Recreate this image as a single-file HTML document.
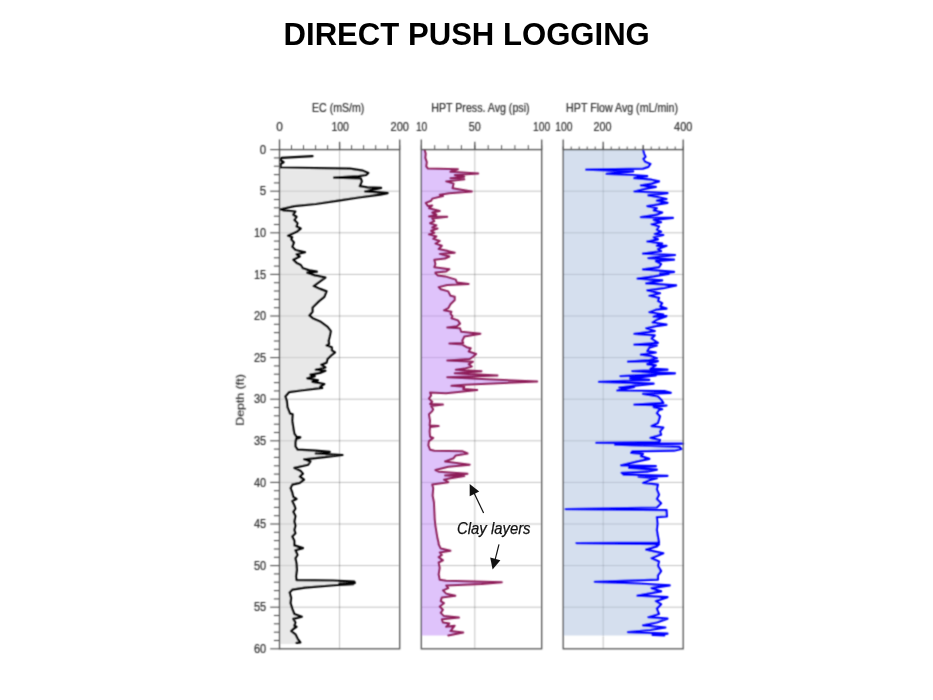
<!DOCTYPE html>
<html lang="en">
<head>
<meta charset="utf-8">
<title>Direct Push Logging</title>
<style>
html,body{margin:0;padding:0;background:#fff;}
body{width:933px;height:700px;position:relative;overflow:hidden;font-family:"Liberation Sans",Arial,sans-serif;}
h1{position:absolute;left:0.2px;top:17px;width:933px;margin:0;text-align:center;font-weight:bold;font-size:31.1px;line-height:36px;color:#000;white-space:nowrap;}
h1 span{display:inline-block;position:relative;}
#chart{position:absolute;left:0;top:0;font-family:"Liberation Sans",Arial,sans-serif;}
</style>
</head>
<body>
<h1 id="title"><span>DIRECT PUSH LOGGING</span></h1>
<svg id="chart" width="933" height="700" viewBox="0 0 933 700">
<defs><filter id="bl" x="-5%" y="-5%" width="110%" height="110%"><feConvolveMatrix order="3" kernelMatrix="0.1299 0.3604 0.1299 0.3604 1.0000 0.3604 0.1299 0.3604 0.1299" divisor="2.9615" edgeMode="none" preserveAlpha="false"/></filter></defs>
<g filter="url(#bl)">
<line x1="279.5" y1="191.2" x2="399.7" y2="191.2" stroke="rgba(0,0,0,0.24)" stroke-width="1"/>
<line x1="279.5" y1="232.8" x2="399.7" y2="232.8" stroke="rgba(0,0,0,0.24)" stroke-width="1"/>
<line x1="279.5" y1="274.4" x2="399.7" y2="274.4" stroke="rgba(0,0,0,0.24)" stroke-width="1"/>
<line x1="279.5" y1="316.0" x2="399.7" y2="316.0" stroke="rgba(0,0,0,0.24)" stroke-width="1"/>
<line x1="279.5" y1="357.6" x2="399.7" y2="357.6" stroke="rgba(0,0,0,0.24)" stroke-width="1"/>
<line x1="279.5" y1="399.2" x2="399.7" y2="399.2" stroke="rgba(0,0,0,0.24)" stroke-width="1"/>
<line x1="279.5" y1="440.8" x2="399.7" y2="440.8" stroke="rgba(0,0,0,0.24)" stroke-width="1"/>
<line x1="279.5" y1="482.4" x2="399.7" y2="482.4" stroke="rgba(0,0,0,0.24)" stroke-width="1"/>
<line x1="279.5" y1="524.0" x2="399.7" y2="524.0" stroke="rgba(0,0,0,0.24)" stroke-width="1"/>
<line x1="279.5" y1="565.6" x2="399.7" y2="565.6" stroke="rgba(0,0,0,0.24)" stroke-width="1"/>
<line x1="279.5" y1="607.2" x2="399.7" y2="607.2" stroke="rgba(0,0,0,0.24)" stroke-width="1"/>
<line x1="339.6" y1="149.6" x2="339.6" y2="648.8" stroke="rgba(0,0,0,0.24)" stroke-width="1"/>
<polygon fill="#d1d1d1" fill-opacity="0.5" points="279.5,169.3 354.3,169.3 362.9,170.7 368.3,172.9 366.1,175.0 358.6,176.1 334.0,177.6 360.8,178.4 361.8,181.4 359.7,186.2 367.2,187.4 381.1,187.9 365.0,191.5 375.8,192.2 387.6,193.2 380.1,194.7 358.6,197.5 341.5,200.1 315.7,204.0 294.3,206.1 280.4,209.3 283.6,210.4 295.4,211.5 293.2,214.7 296.5,216.8 294.3,220.0 297.5,223.2 296.5,226.5 300.7,228.6 296.5,231.8 287.9,235.7 292.2,237.2 291.1,239.3 293.9,242.5 292.2,246.8 295.4,250.0 305.0,252.2 296.5,254.3 299.7,256.5 293.2,259.7 296.5,262.9 300.7,265.0 302.9,268.3 309.3,270.4 316.8,271.7 307.2,272.6 314.7,275.4 325.4,277.5 321.1,280.7 313.6,286.1 320.0,288.9 326.5,291.4 324.3,296.8 319.0,301.1 312.5,307.5 312.5,311.8 309.3,315.4 312.5,318.2 320.0,321.4 327.5,326.8 330.8,331.1 329.7,336.5 328.6,340.7 329.0,344.0 326.5,345.5 331.8,347.2 331.8,350.4 335.0,352.5 330.8,355.7 327.5,359.0 326.5,362.6 321.1,364.7 325.4,367.5 315.7,369.7 325.4,370.8 320.0,372.9 310.4,374.6 314.7,376.1 307.2,378.3 317.9,380.4 312.5,381.9 324.3,384.0 320.0,386.8 322.2,387.9 300.7,390.5 288.9,392.2 285.3,396.5 286.8,400.8 287.4,407.2 290.0,413.6 292.6,414.3 292.2,420.7 293.2,427.1 294.3,433.6 296.5,436.8 300.3,437.4 296.0,438.9 295.4,442.2 295.4,446.4 297.5,449.7 315.7,450.7 329.7,451.8 315.7,453.5 342.5,455.0 324.3,457.2 304.0,459.3 310.4,461.4 308.2,464.7 294.3,467.9 300.7,471.1 302.9,473.7 299.7,476.5 304.0,479.7 299.7,482.9 292.2,484.6 290.5,488.2 292.2,492.5 293.2,496.8 296.5,499.0 292.2,501.1 294.3,505.4 295.4,508.6 293.2,511.8 295.4,516.1 294.3,521.5 295.4,525.8 294.3,530.0 295.4,533.3 292.2,536.5 294.3,540.8 294.3,545.4 302.9,548.1 295.4,550.3 297.5,555.0 295.4,558.2 296.5,563.6 296.9,570.0 296.0,576.4 296.5,580.1 332.9,580.5 354.3,581.6 354.8,582.9 339.3,583.5 353.3,584.2 337.2,585.0 305.0,587.6 292.2,589.7 289.6,592.5 291.1,597.9 290.5,603.2 292.2,608.6 294.3,614.0 301.8,616.7 293.2,618.9 295.4,622.5 294.3,625.7 296.5,626.8 293.2,629.0 291.1,631.1 295.4,634.3 297.5,638.6 300.3,642.5 296.5,642.9 296.5,644.0 279.5,644.0"/>
<polyline fill="none" stroke="#000000" stroke-width="2.20" stroke-linejoin="round" stroke-linecap="round" points="312.5,156.2 281.4,157.9 280.4,160.0 283.6,162.2 280.8,163.9 280.4,167.5 350.0,168.6 362.9,170.7 368.3,172.9 366.1,175.0 358.6,176.1 334.0,177.6 360.8,178.4 361.8,181.4 359.7,186.2 367.2,187.4 381.1,187.9 365.0,191.5 375.8,192.2 387.6,193.2 380.1,194.7 358.6,197.5 341.5,200.1 315.7,204.0 294.3,206.1 280.4,209.3 283.6,210.4 295.4,211.5 293.2,214.7 296.5,216.8 294.3,220.0 297.5,223.2 296.5,226.5 300.7,228.6 296.5,231.8 287.9,235.7 292.2,237.2 291.1,239.3 293.9,242.5 292.2,246.8 295.4,250.0 305.0,252.2 296.5,254.3 299.7,256.5 293.2,259.7 296.5,262.9 300.7,265.0 302.9,268.3 309.3,270.4 316.8,271.7 307.2,272.6 314.7,275.4 325.4,277.5 321.1,280.7 313.6,286.1 320.0,288.9 326.5,291.4 324.3,296.8 319.0,301.1 312.5,307.5 312.5,311.8 309.3,315.4 312.5,318.2 320.0,321.4 327.5,326.8 330.8,331.1 329.7,336.5 328.6,340.7 329.0,344.0 326.5,345.5 331.8,347.2 331.8,350.4 335.0,352.5 330.8,355.7 327.5,359.0 326.5,362.6 321.1,364.7 325.4,367.5 315.7,369.7 325.4,370.8 320.0,372.9 310.4,374.6 314.7,376.1 307.2,378.3 317.9,380.4 312.5,381.9 324.3,384.0 320.0,386.8 322.2,387.9 300.7,390.5 288.9,392.2 285.3,396.5 286.8,400.8 287.4,407.2 290.0,413.6 292.6,414.3 292.2,420.7 293.2,427.1 294.3,433.6 296.5,436.8 300.3,437.4 296.0,438.9 295.4,442.2 295.4,446.4 297.5,449.7 315.7,450.7 329.7,451.8 315.7,453.5 342.5,455.0 324.3,457.2 304.0,459.3 310.4,461.4 308.2,464.7 294.3,467.9 300.7,471.1 302.9,473.7 299.7,476.5 304.0,479.7 299.7,482.9 292.2,484.6 290.5,488.2 292.2,492.5 293.2,496.8 296.5,499.0 292.2,501.1 294.3,505.4 295.4,508.6 293.2,511.8 295.4,516.1 294.3,521.5 295.4,525.8 294.3,530.0 295.4,533.3 292.2,536.5 294.3,540.8 294.3,545.4 302.9,548.1 295.4,550.3 297.5,555.0 295.4,558.2 296.5,563.6 296.9,570.0 296.0,576.4 296.5,580.1 332.9,580.5 354.3,581.6 354.8,582.9 339.3,583.5 353.3,584.2 337.2,585.0 305.0,587.6 292.2,589.7 289.6,592.5 291.1,597.9 290.5,603.2 292.2,608.6 294.3,614.0 301.8,616.7 293.2,618.9 295.4,622.5 294.3,625.7 296.5,626.8 293.2,629.0 291.1,631.1 295.4,634.3 297.5,638.6 300.3,642.5 296.5,642.9"/>
<rect x="279.5" y="149.6" width="120.2" height="499.2" fill="none" stroke="#555555" stroke-width="1.3"/>
<line x1="279.5" y1="149.6" x2="279.5" y2="145.2" stroke="#555555" stroke-width="1"/>
<line x1="291.5" y1="149.6" x2="291.5" y2="145.2" stroke="#555555" stroke-width="1"/>
<line x1="303.5" y1="149.6" x2="303.5" y2="145.2" stroke="#555555" stroke-width="1"/>
<line x1="315.6" y1="149.6" x2="315.6" y2="145.2" stroke="#555555" stroke-width="1"/>
<line x1="327.6" y1="149.6" x2="327.6" y2="145.2" stroke="#555555" stroke-width="1"/>
<line x1="339.6" y1="149.6" x2="339.6" y2="145.2" stroke="#555555" stroke-width="1"/>
<line x1="351.6" y1="149.6" x2="351.6" y2="145.2" stroke="#555555" stroke-width="1"/>
<line x1="363.6" y1="149.6" x2="363.6" y2="145.2" stroke="#555555" stroke-width="1"/>
<line x1="375.7" y1="149.6" x2="375.7" y2="145.2" stroke="#555555" stroke-width="1"/>
<line x1="387.7" y1="149.6" x2="387.7" y2="145.2" stroke="#555555" stroke-width="1"/>
<line x1="399.7" y1="149.6" x2="399.7" y2="145.2" stroke="#555555" stroke-width="1"/>
<line x1="279.5" y1="149.6" x2="279.5" y2="139.4" stroke="#555555" stroke-width="1.3"/>
<line x1="339.6" y1="149.6" x2="339.6" y2="141.8" stroke="#555555" stroke-width="1.3"/>
<line x1="399.7" y1="149.6" x2="399.7" y2="139.4" stroke="#555555" stroke-width="1.3"/>
<line x1="421.3" y1="191.2" x2="541.7" y2="191.2" stroke="rgba(0,0,0,0.24)" stroke-width="1"/>
<line x1="421.3" y1="232.8" x2="541.7" y2="232.8" stroke="rgba(0,0,0,0.24)" stroke-width="1"/>
<line x1="421.3" y1="274.4" x2="541.7" y2="274.4" stroke="rgba(0,0,0,0.24)" stroke-width="1"/>
<line x1="421.3" y1="316.0" x2="541.7" y2="316.0" stroke="rgba(0,0,0,0.24)" stroke-width="1"/>
<line x1="421.3" y1="357.6" x2="541.7" y2="357.6" stroke="rgba(0,0,0,0.24)" stroke-width="1"/>
<line x1="421.3" y1="399.2" x2="541.7" y2="399.2" stroke="rgba(0,0,0,0.24)" stroke-width="1"/>
<line x1="421.3" y1="440.8" x2="541.7" y2="440.8" stroke="rgba(0,0,0,0.24)" stroke-width="1"/>
<line x1="421.3" y1="482.4" x2="541.7" y2="482.4" stroke="rgba(0,0,0,0.24)" stroke-width="1"/>
<line x1="421.3" y1="524.0" x2="541.7" y2="524.0" stroke="rgba(0,0,0,0.24)" stroke-width="1"/>
<line x1="421.3" y1="565.6" x2="541.7" y2="565.6" stroke="rgba(0,0,0,0.24)" stroke-width="1"/>
<line x1="421.3" y1="607.2" x2="541.7" y2="607.2" stroke="rgba(0,0,0,0.24)" stroke-width="1"/>
<line x1="474.8" y1="149.6" x2="474.8" y2="648.8" stroke="rgba(0,0,0,0.24)" stroke-width="1"/>
<polygon fill="#bf87f7" fill-opacity="0.5" points="421.3,149.6 424.7,149.6 424.7,150.4 425.7,153.6 425.3,157.9 426.8,162.2 426.2,166.4 427.9,168.6 457.9,169.2 450.4,171.8 478.2,173.5 454.7,175.0 464.3,176.7 450.4,178.2 464.3,179.3 446.1,181.4 453.6,183.6 452.5,188.3 471.8,191.5 449.3,193.2 439.7,194.7 442.9,196.0 432.2,198.6 431.1,200.7 425.7,202.9 427.9,206.1 432.2,205.5 428.9,208.2 439.7,211.0 432.2,212.5 436.4,214.7 428.9,216.4 447.2,216.8 432.2,218.5 434.3,221.1 430.0,223.2 436.4,225.4 432.2,227.5 437.5,228.6 431.1,230.8 434.3,232.9 428.9,234.4 436.4,236.5 433.2,238.9 439.7,241.0 435.4,243.6 441.8,245.8 438.6,249.0 448.2,251.1 454.7,252.8 439.7,253.9 449.3,256.5 445.0,258.6 434.3,259.7 435.4,264.0 434.3,267.2 449.3,269.3 446.1,271.5 435.4,272.6 435.4,273.2 437.5,275.4 445.0,276.4 455.7,279.6 456.8,282.4 468.6,283.9 447.2,285.0 438.6,287.1 440.7,289.3 448.2,291.4 450.4,295.7 454.7,296.8 454.7,300.0 450.4,304.3 448.2,308.2 443.9,310.3 451.4,311.8 450.4,313.9 452.5,316.1 451.4,318.2 457.9,320.4 460.0,323.6 456.8,326.2 447.2,327.4 460.0,328.3 461.1,331.7 480.4,333.7 464.3,336.5 462.2,340.7 463.2,342.9 449.3,343.5 462.2,344.6 466.5,347.2 470.7,348.2 468.6,351.5 476.1,354.0 472.9,356.8 469.7,359.0 447.2,360.5 472.9,361.7 468.6,364.3 471.8,366.5 464.3,368.6 455.7,369.7 481.5,371.2 454.7,373.3 497.5,375.5 447.2,377.2 486.8,379.3 537.2,381.5 513.6,382.5 464.3,384.7 451.4,385.8 464.3,386.8 463.2,389.0 477.2,390.0 446.1,393.3 430.0,392.6 431.1,395.4 428.9,398.6 432.2,401.8 430.0,404.0 442.9,404.6 431.1,406.1 433.2,409.3 432.2,411.1 428.9,414.3 430.0,420.7 429.6,425.4 438.6,426.1 430.0,427.1 429.6,431.4 430.0,436.8 433.2,437.9 428.9,441.1 428.3,445.4 430.0,449.7 434.3,450.7 462.2,451.2 467.5,453.5 455.7,455.4 453.6,458.2 445.0,461.4 469.7,464.7 448.2,466.8 435.4,470.0 438.6,471.7 467.5,473.7 445.0,475.4 464.3,476.0 450.4,478.2 443.9,479.7 448.2,482.2 432.2,484.4 433.2,488.2 432.6,495.7 433.9,502.2 434.3,510.8 434.7,519.3 435.4,525.8 436.4,532.2 437.5,538.6 438.6,542.9 438.6,544.3 440.7,548.6 450.4,550.7 439.7,552.4 441.8,555.0 438.6,557.1 442.9,560.4 438.6,562.5 439.7,567.9 438.6,574.3 439.7,579.7 446.1,580.7 501.8,582.2 481.5,583.9 446.1,585.4 448.2,588.2 442.9,590.4 446.1,593.6 455.3,595.7 441.8,597.4 440.7,601.1 443.9,603.2 439.7,606.5 442.9,609.7 440.7,612.9 443.9,616.1 458.9,617.6 441.8,619.3 442.9,622.5 449.3,623.6 446.1,626.8 454.7,625.7 450.4,631.1 463.2,632.6 448.2,635.4 448.2,635.4 421.3,635.4"/>
<polyline fill="none" stroke="#8e1b58" stroke-width="2.00" stroke-linejoin="round" stroke-linecap="round" points="424.7,150.4 425.7,153.6 425.3,157.9 426.8,162.2 426.2,166.4 427.9,168.6 457.9,169.2 450.4,171.8 478.2,173.5 454.7,175.0 464.3,176.7 450.4,178.2 464.3,179.3 446.1,181.4 453.6,183.6 452.5,188.3 471.8,191.5 449.3,193.2 439.7,194.7 442.9,196.0 432.2,198.6 431.1,200.7 425.7,202.9 427.9,206.1 432.2,205.5 428.9,208.2 439.7,211.0 432.2,212.5 436.4,214.7 428.9,216.4 447.2,216.8 432.2,218.5 434.3,221.1 430.0,223.2 436.4,225.4 432.2,227.5 437.5,228.6 431.1,230.8 434.3,232.9 428.9,234.4 436.4,236.5 433.2,238.9 439.7,241.0 435.4,243.6 441.8,245.8 438.6,249.0 448.2,251.1 454.7,252.8 439.7,253.9 449.3,256.5 445.0,258.6 434.3,259.7 435.4,264.0 434.3,267.2 449.3,269.3 446.1,271.5 435.4,272.6 435.4,273.2 437.5,275.4 445.0,276.4 455.7,279.6 456.8,282.4 468.6,283.9 447.2,285.0 438.6,287.1 440.7,289.3 448.2,291.4 450.4,295.7 454.7,296.8 454.7,300.0 450.4,304.3 448.2,308.2 443.9,310.3 451.4,311.8 450.4,313.9 452.5,316.1 451.4,318.2 457.9,320.4 460.0,323.6 456.8,326.2 447.2,327.4 460.0,328.3 461.1,331.7 480.4,333.7 464.3,336.5 462.2,340.7 463.2,342.9 449.3,343.5 462.2,344.6 466.5,347.2 470.7,348.2 468.6,351.5 476.1,354.0 472.9,356.8 469.7,359.0 447.2,360.5 472.9,361.7 468.6,364.3 471.8,366.5 464.3,368.6 455.7,369.7 481.5,371.2 454.7,373.3 497.5,375.5 447.2,377.2 486.8,379.3 537.2,381.5 513.6,382.5 464.3,384.7 451.4,385.8 464.3,386.8 463.2,389.0 477.2,390.0 446.1,393.3 430.0,392.6 431.1,395.4 428.9,398.6 432.2,401.8 430.0,404.0 442.9,404.6 431.1,406.1 433.2,409.3 432.2,411.1 428.9,414.3 430.0,420.7 429.6,425.4 438.6,426.1 430.0,427.1 429.6,431.4 430.0,436.8 433.2,437.9 428.9,441.1 428.3,445.4 430.0,449.7 434.3,450.7 462.2,451.2 467.5,453.5 455.7,455.4 453.6,458.2 445.0,461.4 469.7,464.7 448.2,466.8 435.4,470.0 438.6,471.7 467.5,473.7 445.0,475.4 464.3,476.0 450.4,478.2 443.9,479.7 448.2,482.2 432.2,484.4 433.2,488.2 432.6,495.7 433.9,502.2 434.3,510.8 434.7,519.3 435.4,525.8 436.4,532.2 437.5,538.6 438.6,542.9 438.6,544.3 440.7,548.6 450.4,550.7 439.7,552.4 441.8,555.0 438.6,557.1 442.9,560.4 438.6,562.5 439.7,567.9 438.6,574.3 439.7,579.7 446.1,580.7 501.8,582.2 481.5,583.9 446.1,585.4 448.2,588.2 442.9,590.4 446.1,593.6 455.3,595.7 441.8,597.4 440.7,601.1 443.9,603.2 439.7,606.5 442.9,609.7 440.7,612.9 443.9,616.1 458.9,617.6 441.8,619.3 442.9,622.5 449.3,623.6 446.1,626.8 454.7,625.7 450.4,631.1 463.2,632.6 448.2,635.4"/>
<rect x="421.3" y="149.6" width="120.4" height="499.2" fill="none" stroke="#555555" stroke-width="1.3"/>
<line x1="421.3" y1="149.6" x2="421.3" y2="145.2" stroke="#555555" stroke-width="1"/>
<line x1="434.7" y1="149.6" x2="434.7" y2="145.2" stroke="#555555" stroke-width="1"/>
<line x1="448.1" y1="149.6" x2="448.1" y2="145.2" stroke="#555555" stroke-width="1"/>
<line x1="461.4" y1="149.6" x2="461.4" y2="145.2" stroke="#555555" stroke-width="1"/>
<line x1="474.8" y1="149.6" x2="474.8" y2="145.2" stroke="#555555" stroke-width="1"/>
<line x1="488.2" y1="149.6" x2="488.2" y2="145.2" stroke="#555555" stroke-width="1"/>
<line x1="501.6" y1="149.6" x2="501.6" y2="145.2" stroke="#555555" stroke-width="1"/>
<line x1="514.9" y1="149.6" x2="514.9" y2="145.2" stroke="#555555" stroke-width="1"/>
<line x1="528.3" y1="149.6" x2="528.3" y2="145.2" stroke="#555555" stroke-width="1"/>
<line x1="541.7" y1="149.6" x2="541.7" y2="145.2" stroke="#555555" stroke-width="1"/>
<line x1="421.3" y1="149.6" x2="421.3" y2="139.4" stroke="#555555" stroke-width="1.3"/>
<line x1="474.8" y1="149.6" x2="474.8" y2="141.8" stroke="#555555" stroke-width="1.3"/>
<line x1="541.7" y1="149.6" x2="541.7" y2="139.4" stroke="#555555" stroke-width="1.3"/>
<line x1="563.2" y1="191.2" x2="683.2" y2="191.2" stroke="rgba(0,0,0,0.24)" stroke-width="1"/>
<line x1="563.2" y1="232.8" x2="683.2" y2="232.8" stroke="rgba(0,0,0,0.24)" stroke-width="1"/>
<line x1="563.2" y1="274.4" x2="683.2" y2="274.4" stroke="rgba(0,0,0,0.24)" stroke-width="1"/>
<line x1="563.2" y1="316.0" x2="683.2" y2="316.0" stroke="rgba(0,0,0,0.24)" stroke-width="1"/>
<line x1="563.2" y1="357.6" x2="683.2" y2="357.6" stroke="rgba(0,0,0,0.24)" stroke-width="1"/>
<line x1="563.2" y1="399.2" x2="683.2" y2="399.2" stroke="rgba(0,0,0,0.24)" stroke-width="1"/>
<line x1="563.2" y1="440.8" x2="683.2" y2="440.8" stroke="rgba(0,0,0,0.24)" stroke-width="1"/>
<line x1="563.2" y1="482.4" x2="683.2" y2="482.4" stroke="rgba(0,0,0,0.24)" stroke-width="1"/>
<line x1="563.2" y1="524.0" x2="683.2" y2="524.0" stroke="rgba(0,0,0,0.24)" stroke-width="1"/>
<line x1="563.2" y1="565.6" x2="683.2" y2="565.6" stroke="rgba(0,0,0,0.24)" stroke-width="1"/>
<line x1="563.2" y1="607.2" x2="683.2" y2="607.2" stroke="rgba(0,0,0,0.24)" stroke-width="1"/>
<line x1="603.2" y1="149.6" x2="603.2" y2="648.8" stroke="rgba(0,0,0,0.24)" stroke-width="1"/>
<polygon fill="#abbfdd" fill-opacity="0.5" points="563.2,149.6 643.3,149.6 643.3,150.4 644.0,153.6 645.5,156.8 643.3,158.9 645.0,161.7 650.4,163.9 648.3,166.9 642.9,168.6 586.1,169.7 633.2,171.4 606.5,173.9 632.2,175.0 647.2,176.1 634.3,178.2 651.5,179.7 659.0,181.4 651.5,183.6 640.8,185.3 655.8,186.8 645.0,188.9 634.3,191.5 667.5,193.2 648.3,195.4 660.0,197.5 666.5,199.0 656.8,200.7 667.5,202.9 647.2,206.1 656.8,208.2 653.6,210.4 662.2,212.5 656.8,214.7 640.8,217.2 672.9,217.9 653.6,220.0 661.1,222.2 651.5,224.3 659.0,226.5 656.8,229.7 661.1,231.8 654.7,234.0 663.3,235.0 653.6,237.2 657.9,239.3 647.2,241.5 662.2,243.6 656.8,245.8 666.5,245.8 657.9,249.0 661.1,251.1 642.9,253.7 675.0,255.0 648.3,258.2 674.0,259.7 655.8,261.2 661.1,264.0 659.0,267.2 642.9,269.3 655.8,270.4 674.0,271.9 660.0,273.6 668.6,273.9 653.6,276.4 637.5,278.6 662.2,280.3 646.1,283.3 676.1,285.4 663.3,288.2 647.2,290.4 660.0,293.2 649.3,295.7 659.0,297.9 657.9,301.1 662.2,303.2 660.0,306.4 666.5,308.6 655.8,309.7 649.3,312.2 663.3,314.6 653.6,316.7 666.5,316.1 656.8,319.7 652.5,322.5 666.5,324.7 655.8,326.2 646.1,328.3 654.7,331.1 634.3,333.9 654.7,335.4 651.5,338.6 657.9,342.9 634.3,344.6 656.8,345.5 649.3,347.6 647.2,351.0 655.8,352.5 640.8,354.7 651.5,356.2 656.8,358.3 649.3,360.0 627.9,361.7 657.9,361.1 647.2,364.3 655.8,365.4 650.4,368.6 667.5,369.7 632.2,371.2 675.0,373.3 620.4,376.1 655.8,375.5 630.0,378.3 649.3,379.8 598.9,381.9 653.6,383.6 633.2,385.8 619.3,387.5 634.3,386.8 617.2,390.5 664.3,391.1 670.8,392.8 642.9,393.9 657.9,396.5 661.1,399.7 663.3,402.9 634.3,404.6 666.5,405.5 653.6,407.2 662.2,409.3 659.0,410.0 656.8,413.2 660.0,416.4 657.9,422.9 651.5,426.1 663.3,427.6 660.0,431.4 661.1,434.7 650.4,437.9 660.0,440.0 659.0,442.2 596.2,442.8 683.2,443.7 615.0,444.7 679.3,446.9 681.5,449.0 674.0,450.7 632.2,451.4 631.1,452.9 642.9,453.9 640.8,456.1 649.3,458.9 637.5,461.4 621.0,465.3 655.8,466.2 629.0,467.9 656.8,469.6 647.2,471.7 621.5,472.8 623.6,474.7 667.5,475.8 638.6,476.9 656.8,478.2 649.3,480.3 642.9,482.9 657.9,484.6 656.8,489.3 659.0,494.7 656.8,499.0 661.1,503.2 656.8,507.5 565.7,509.2 666.5,510.1 666.9,516.5 656.8,517.2 657.5,523.6 656.8,530.0 657.9,536.5 659.0,542.5 576.4,543.1 659.0,544.2 656.8,546.4 646.1,549.6 663.3,553.3 651.5,558.2 659.0,561.4 657.9,565.7 661.1,571.1 657.9,575.4 657.9,579.7 594.7,581.8 638.6,583.5 669.7,585.4 651.5,588.2 661.1,591.4 637.5,595.7 667.5,597.2 655.8,601.1 661.1,604.3 656.8,608.6 659.0,614.0 648.3,617.2 667.5,618.7 656.8,622.5 642.9,625.3 665.4,627.5 650.4,630.0 627.9,632.2 667.5,633.7 652.5,635.0 664.3,635.4 664.3,635.4 563.2,635.4"/>
<polyline fill="none" stroke="#0000ff" stroke-width="2.20" stroke-linejoin="round" stroke-linecap="round" points="643.3,150.4 644.0,153.6 645.5,156.8 643.3,158.9 645.0,161.7 650.4,163.9 648.3,166.9 642.9,168.6 586.1,169.7 633.2,171.4 606.5,173.9 632.2,175.0 647.2,176.1 634.3,178.2 651.5,179.7 659.0,181.4 651.5,183.6 640.8,185.3 655.8,186.8 645.0,188.9 634.3,191.5 667.5,193.2 648.3,195.4 660.0,197.5 666.5,199.0 656.8,200.7 667.5,202.9 647.2,206.1 656.8,208.2 653.6,210.4 662.2,212.5 656.8,214.7 640.8,217.2 672.9,217.9 653.6,220.0 661.1,222.2 651.5,224.3 659.0,226.5 656.8,229.7 661.1,231.8 654.7,234.0 663.3,235.0 653.6,237.2 657.9,239.3 647.2,241.5 662.2,243.6 656.8,245.8 666.5,245.8 657.9,249.0 661.1,251.1 642.9,253.7 675.0,255.0 648.3,258.2 674.0,259.7 655.8,261.2 661.1,264.0 659.0,267.2 642.9,269.3 655.8,270.4 674.0,271.9 660.0,273.6 668.6,273.9 653.6,276.4 637.5,278.6 662.2,280.3 646.1,283.3 676.1,285.4 663.3,288.2 647.2,290.4 660.0,293.2 649.3,295.7 659.0,297.9 657.9,301.1 662.2,303.2 660.0,306.4 666.5,308.6 655.8,309.7 649.3,312.2 663.3,314.6 653.6,316.7 666.5,316.1 656.8,319.7 652.5,322.5 666.5,324.7 655.8,326.2 646.1,328.3 654.7,331.1 634.3,333.9 654.7,335.4 651.5,338.6 657.9,342.9 634.3,344.6 656.8,345.5 649.3,347.6 647.2,351.0 655.8,352.5 640.8,354.7 651.5,356.2 656.8,358.3 649.3,360.0 627.9,361.7 657.9,361.1 647.2,364.3 655.8,365.4 650.4,368.6 667.5,369.7 632.2,371.2 675.0,373.3 620.4,376.1 655.8,375.5 630.0,378.3 649.3,379.8 598.9,381.9 653.6,383.6 633.2,385.8 619.3,387.5 634.3,386.8 617.2,390.5 664.3,391.1 670.8,392.8 642.9,393.9 657.9,396.5 661.1,399.7 663.3,402.9 634.3,404.6 666.5,405.5 653.6,407.2 662.2,409.3 659.0,410.0 656.8,413.2 660.0,416.4 657.9,422.9 651.5,426.1 663.3,427.6 660.0,431.4 661.1,434.7 650.4,437.9 660.0,440.0 659.0,442.2 596.2,442.8 683.2,443.7 615.0,444.7 679.3,446.9 681.5,449.0 674.0,450.7 632.2,451.4 631.1,452.9 642.9,453.9 640.8,456.1 649.3,458.9 637.5,461.4 621.0,465.3 655.8,466.2 629.0,467.9 656.8,469.6 647.2,471.7 621.5,472.8 623.6,474.7 667.5,475.8 638.6,476.9 656.8,478.2 649.3,480.3 642.9,482.9 657.9,484.6 656.8,489.3 659.0,494.7 656.8,499.0 661.1,503.2 656.8,507.5 565.7,509.2 666.5,510.1 666.9,516.5 656.8,517.2 657.5,523.6 656.8,530.0 657.9,536.5 659.0,542.5 576.4,543.1 659.0,544.2 656.8,546.4 646.1,549.6 663.3,553.3 651.5,558.2 659.0,561.4 657.9,565.7 661.1,571.1 657.9,575.4 657.9,579.7 594.7,581.8 638.6,583.5 669.7,585.4 651.5,588.2 661.1,591.4 637.5,595.7 667.5,597.2 655.8,601.1 661.1,604.3 656.8,608.6 659.0,614.0 648.3,617.2 667.5,618.7 656.8,622.5 642.9,625.3 665.4,627.5 650.4,630.0 627.9,632.2 667.5,633.7 652.5,635.0 664.3,635.4"/>
<rect x="563.2" y="149.6" width="120.0" height="499.2" fill="none" stroke="#555555" stroke-width="1.3"/>
<line x1="563.2" y1="149.6" x2="563.2" y2="146.6" stroke="#555555" stroke-width="1"/>
<line x1="571.2" y1="149.6" x2="571.2" y2="146.6" stroke="#555555" stroke-width="1"/>
<line x1="579.2" y1="149.6" x2="579.2" y2="146.6" stroke="#555555" stroke-width="1"/>
<line x1="587.2" y1="149.6" x2="587.2" y2="146.6" stroke="#555555" stroke-width="1"/>
<line x1="595.2" y1="149.6" x2="595.2" y2="146.6" stroke="#555555" stroke-width="1"/>
<line x1="603.2" y1="149.6" x2="603.2" y2="146.6" stroke="#555555" stroke-width="1"/>
<line x1="611.2" y1="149.6" x2="611.2" y2="146.6" stroke="#555555" stroke-width="1"/>
<line x1="619.2" y1="149.6" x2="619.2" y2="146.6" stroke="#555555" stroke-width="1"/>
<line x1="627.2" y1="149.6" x2="627.2" y2="146.6" stroke="#555555" stroke-width="1"/>
<line x1="635.2" y1="149.6" x2="635.2" y2="146.6" stroke="#555555" stroke-width="1"/>
<line x1="643.2" y1="149.6" x2="643.2" y2="146.6" stroke="#555555" stroke-width="1"/>
<line x1="651.2" y1="149.6" x2="651.2" y2="146.6" stroke="#555555" stroke-width="1"/>
<line x1="659.2" y1="149.6" x2="659.2" y2="146.6" stroke="#555555" stroke-width="1"/>
<line x1="667.2" y1="149.6" x2="667.2" y2="146.6" stroke="#555555" stroke-width="1"/>
<line x1="675.2" y1="149.6" x2="675.2" y2="146.6" stroke="#555555" stroke-width="1"/>
<line x1="683.2" y1="149.6" x2="683.2" y2="146.6" stroke="#555555" stroke-width="1"/>
<line x1="563.2" y1="149.6" x2="563.2" y2="139.4" stroke="#555555" stroke-width="1.3"/>
<line x1="603.2" y1="149.6" x2="603.2" y2="141.8" stroke="#555555" stroke-width="1.3"/>
<line x1="643.2" y1="149.6" x2="643.2" y2="145.0" stroke="#555555" stroke-width="1.3"/>
<line x1="683.2" y1="149.6" x2="683.2" y2="139.4" stroke="#555555" stroke-width="1.3"/>
<line x1="270.2" y1="149.6" x2="279.5" y2="149.6" stroke="#555555" stroke-width="1.1"/>
<line x1="273.9" y1="157.9" x2="279.5" y2="157.9" stroke="#555555" stroke-width="1.1"/>
<line x1="273.9" y1="166.2" x2="279.5" y2="166.2" stroke="#555555" stroke-width="1.1"/>
<line x1="273.9" y1="174.6" x2="279.5" y2="174.6" stroke="#555555" stroke-width="1.1"/>
<line x1="273.9" y1="182.9" x2="279.5" y2="182.9" stroke="#555555" stroke-width="1.1"/>
<line x1="270.2" y1="191.2" x2="279.5" y2="191.2" stroke="#555555" stroke-width="1.1"/>
<line x1="273.9" y1="199.5" x2="279.5" y2="199.5" stroke="#555555" stroke-width="1.1"/>
<line x1="273.9" y1="207.8" x2="279.5" y2="207.8" stroke="#555555" stroke-width="1.1"/>
<line x1="273.9" y1="216.2" x2="279.5" y2="216.2" stroke="#555555" stroke-width="1.1"/>
<line x1="273.9" y1="224.5" x2="279.5" y2="224.5" stroke="#555555" stroke-width="1.1"/>
<line x1="270.2" y1="232.8" x2="279.5" y2="232.8" stroke="#555555" stroke-width="1.1"/>
<line x1="273.9" y1="241.1" x2="279.5" y2="241.1" stroke="#555555" stroke-width="1.1"/>
<line x1="273.9" y1="249.4" x2="279.5" y2="249.4" stroke="#555555" stroke-width="1.1"/>
<line x1="273.9" y1="257.8" x2="279.5" y2="257.8" stroke="#555555" stroke-width="1.1"/>
<line x1="273.9" y1="266.1" x2="279.5" y2="266.1" stroke="#555555" stroke-width="1.1"/>
<line x1="270.2" y1="274.4" x2="279.5" y2="274.4" stroke="#555555" stroke-width="1.1"/>
<line x1="273.9" y1="282.7" x2="279.5" y2="282.7" stroke="#555555" stroke-width="1.1"/>
<line x1="273.9" y1="291.0" x2="279.5" y2="291.0" stroke="#555555" stroke-width="1.1"/>
<line x1="273.9" y1="299.4" x2="279.5" y2="299.4" stroke="#555555" stroke-width="1.1"/>
<line x1="273.9" y1="307.7" x2="279.5" y2="307.7" stroke="#555555" stroke-width="1.1"/>
<line x1="270.2" y1="316.0" x2="279.5" y2="316.0" stroke="#555555" stroke-width="1.1"/>
<line x1="273.9" y1="324.3" x2="279.5" y2="324.3" stroke="#555555" stroke-width="1.1"/>
<line x1="273.9" y1="332.6" x2="279.5" y2="332.6" stroke="#555555" stroke-width="1.1"/>
<line x1="273.9" y1="341.0" x2="279.5" y2="341.0" stroke="#555555" stroke-width="1.1"/>
<line x1="273.9" y1="349.3" x2="279.5" y2="349.3" stroke="#555555" stroke-width="1.1"/>
<line x1="270.2" y1="357.6" x2="279.5" y2="357.6" stroke="#555555" stroke-width="1.1"/>
<line x1="273.9" y1="365.9" x2="279.5" y2="365.9" stroke="#555555" stroke-width="1.1"/>
<line x1="273.9" y1="374.2" x2="279.5" y2="374.2" stroke="#555555" stroke-width="1.1"/>
<line x1="273.9" y1="382.6" x2="279.5" y2="382.6" stroke="#555555" stroke-width="1.1"/>
<line x1="273.9" y1="390.9" x2="279.5" y2="390.9" stroke="#555555" stroke-width="1.1"/>
<line x1="270.2" y1="399.2" x2="279.5" y2="399.2" stroke="#555555" stroke-width="1.1"/>
<line x1="273.9" y1="407.5" x2="279.5" y2="407.5" stroke="#555555" stroke-width="1.1"/>
<line x1="273.9" y1="415.8" x2="279.5" y2="415.8" stroke="#555555" stroke-width="1.1"/>
<line x1="273.9" y1="424.2" x2="279.5" y2="424.2" stroke="#555555" stroke-width="1.1"/>
<line x1="273.9" y1="432.5" x2="279.5" y2="432.5" stroke="#555555" stroke-width="1.1"/>
<line x1="270.2" y1="440.8" x2="279.5" y2="440.8" stroke="#555555" stroke-width="1.1"/>
<line x1="273.9" y1="449.1" x2="279.5" y2="449.1" stroke="#555555" stroke-width="1.1"/>
<line x1="273.9" y1="457.4" x2="279.5" y2="457.4" stroke="#555555" stroke-width="1.1"/>
<line x1="273.9" y1="465.8" x2="279.5" y2="465.8" stroke="#555555" stroke-width="1.1"/>
<line x1="273.9" y1="474.1" x2="279.5" y2="474.1" stroke="#555555" stroke-width="1.1"/>
<line x1="270.2" y1="482.4" x2="279.5" y2="482.4" stroke="#555555" stroke-width="1.1"/>
<line x1="273.9" y1="490.7" x2="279.5" y2="490.7" stroke="#555555" stroke-width="1.1"/>
<line x1="273.9" y1="499.0" x2="279.5" y2="499.0" stroke="#555555" stroke-width="1.1"/>
<line x1="273.9" y1="507.4" x2="279.5" y2="507.4" stroke="#555555" stroke-width="1.1"/>
<line x1="273.9" y1="515.7" x2="279.5" y2="515.7" stroke="#555555" stroke-width="1.1"/>
<line x1="270.2" y1="524.0" x2="279.5" y2="524.0" stroke="#555555" stroke-width="1.1"/>
<line x1="273.9" y1="532.3" x2="279.5" y2="532.3" stroke="#555555" stroke-width="1.1"/>
<line x1="273.9" y1="540.6" x2="279.5" y2="540.6" stroke="#555555" stroke-width="1.1"/>
<line x1="273.9" y1="549.0" x2="279.5" y2="549.0" stroke="#555555" stroke-width="1.1"/>
<line x1="273.9" y1="557.3" x2="279.5" y2="557.3" stroke="#555555" stroke-width="1.1"/>
<line x1="270.2" y1="565.6" x2="279.5" y2="565.6" stroke="#555555" stroke-width="1.1"/>
<line x1="273.9" y1="573.9" x2="279.5" y2="573.9" stroke="#555555" stroke-width="1.1"/>
<line x1="273.9" y1="582.2" x2="279.5" y2="582.2" stroke="#555555" stroke-width="1.1"/>
<line x1="273.9" y1="590.6" x2="279.5" y2="590.6" stroke="#555555" stroke-width="1.1"/>
<line x1="273.9" y1="598.9" x2="279.5" y2="598.9" stroke="#555555" stroke-width="1.1"/>
<line x1="270.2" y1="607.2" x2="279.5" y2="607.2" stroke="#555555" stroke-width="1.1"/>
<line x1="273.9" y1="615.5" x2="279.5" y2="615.5" stroke="#555555" stroke-width="1.1"/>
<line x1="273.9" y1="623.8" x2="279.5" y2="623.8" stroke="#555555" stroke-width="1.1"/>
<line x1="273.9" y1="632.2" x2="279.5" y2="632.2" stroke="#555555" stroke-width="1.1"/>
<line x1="273.9" y1="640.5" x2="279.5" y2="640.5" stroke="#555555" stroke-width="1.1"/>
<line x1="270.2" y1="648.8" x2="279.5" y2="648.8" stroke="#555555" stroke-width="1.1"/>
<text x="338.2" y="111.6" font-size="12.20" text-anchor="middle" fill="#303030" stroke="#303030" stroke-width="0.22" textLength="52.3" lengthAdjust="spacingAndGlyphs" >EC (mS/m)</text>
<text x="480.4" y="111.6" font-size="12.20" text-anchor="middle" fill="#303030" stroke="#303030" stroke-width="0.22" textLength="98.3" lengthAdjust="spacingAndGlyphs" >HPT Press. Avg (psi)</text>
<text x="622.1" y="111.6" font-size="12.20" text-anchor="middle" fill="#303030" stroke="#303030" stroke-width="0.22" textLength="112.0" lengthAdjust="spacingAndGlyphs" >HPT Flow Avg (mL/min)</text>
<text x="279.5" y="131.3" font-size="12.30" text-anchor="middle" fill="#303030" stroke="#303030" stroke-width="0.22" textLength="6.6" lengthAdjust="spacingAndGlyphs" >0</text>
<text x="340.2" y="131.3" font-size="12.30" text-anchor="middle" fill="#303030" stroke="#303030" stroke-width="0.22" textLength="17.6" lengthAdjust="spacingAndGlyphs" >100</text>
<text x="399.7" y="131.3" font-size="12.30" text-anchor="middle" fill="#303030" stroke="#303030" stroke-width="0.22" textLength="18.4" lengthAdjust="spacingAndGlyphs" >200</text>
<text x="421.6" y="131.3" font-size="12.30" text-anchor="middle" fill="#303030" stroke="#303030" stroke-width="0.22" textLength="11.4" lengthAdjust="spacingAndGlyphs" >10</text>
<text x="474.7" y="131.3" font-size="12.30" text-anchor="middle" fill="#303030" stroke="#303030" stroke-width="0.22" textLength="12.0" lengthAdjust="spacingAndGlyphs" >50</text>
<text x="541.7" y="131.3" font-size="12.30" text-anchor="middle" fill="#303030" stroke="#303030" stroke-width="0.22" textLength="17.2" lengthAdjust="spacingAndGlyphs" >100</text>
<text x="563.8" y="131.3" font-size="12.30" text-anchor="middle" fill="#303030" stroke="#303030" stroke-width="0.22" textLength="17.2" lengthAdjust="spacingAndGlyphs" >100</text>
<text x="602.4" y="131.3" font-size="12.30" text-anchor="middle" fill="#303030" stroke="#303030" stroke-width="0.22" textLength="18.0" lengthAdjust="spacingAndGlyphs" >200</text>
<text x="683.2" y="131.3" font-size="12.30" text-anchor="middle" fill="#303030" stroke="#303030" stroke-width="0.22" textLength="18.2" lengthAdjust="spacingAndGlyphs" >400</text>
<text x="266.2" y="153.7" font-size="12.30" text-anchor="end" fill="#303030" stroke="#303030" stroke-width="0.22" textLength="6.4" lengthAdjust="spacingAndGlyphs" >0</text>
<text x="266.2" y="195.3" font-size="12.30" text-anchor="end" fill="#303030" stroke="#303030" stroke-width="0.22" textLength="6.4" lengthAdjust="spacingAndGlyphs" >5</text>
<text x="266.2" y="236.9" font-size="12.30" text-anchor="end" fill="#303030" stroke="#303030" stroke-width="0.22" textLength="12.2" lengthAdjust="spacingAndGlyphs" >10</text>
<text x="266.2" y="278.5" font-size="12.30" text-anchor="end" fill="#303030" stroke="#303030" stroke-width="0.22" textLength="12.2" lengthAdjust="spacingAndGlyphs" >15</text>
<text x="266.2" y="320.1" font-size="12.30" text-anchor="end" fill="#303030" stroke="#303030" stroke-width="0.22" textLength="12.2" lengthAdjust="spacingAndGlyphs" >20</text>
<text x="266.2" y="361.7" font-size="12.30" text-anchor="end" fill="#303030" stroke="#303030" stroke-width="0.22" textLength="12.2" lengthAdjust="spacingAndGlyphs" >25</text>
<text x="266.2" y="403.3" font-size="12.30" text-anchor="end" fill="#303030" stroke="#303030" stroke-width="0.22" textLength="12.2" lengthAdjust="spacingAndGlyphs" >30</text>
<text x="266.2" y="444.9" font-size="12.30" text-anchor="end" fill="#303030" stroke="#303030" stroke-width="0.22" textLength="12.2" lengthAdjust="spacingAndGlyphs" >35</text>
<text x="266.2" y="486.5" font-size="12.30" text-anchor="end" fill="#303030" stroke="#303030" stroke-width="0.22" textLength="12.2" lengthAdjust="spacingAndGlyphs" >40</text>
<text x="266.2" y="528.1" font-size="12.30" text-anchor="end" fill="#303030" stroke="#303030" stroke-width="0.22" textLength="12.2" lengthAdjust="spacingAndGlyphs" >45</text>
<text x="266.2" y="569.7" font-size="12.30" text-anchor="end" fill="#303030" stroke="#303030" stroke-width="0.22" textLength="12.2" lengthAdjust="spacingAndGlyphs" >50</text>
<text x="266.2" y="611.3" font-size="12.30" text-anchor="end" fill="#303030" stroke="#303030" stroke-width="0.22" textLength="12.2" lengthAdjust="spacingAndGlyphs" >55</text>
<text x="266.2" y="652.9" font-size="12.30" text-anchor="end" fill="#303030" stroke="#303030" stroke-width="0.22" textLength="12.2" lengthAdjust="spacingAndGlyphs" >60</text>
<text transform="translate(243.8,400.0) rotate(-90)" font-size="10.6" text-anchor="middle" fill="#303030" stroke="#303030" stroke-width="0.22" textLength="51.5" lengthAdjust="spacingAndGlyphs">Depth (ft)</text>
</g>
<line x1="483.6" y1="512.9" x2="473.6" y2="492.1" stroke="#111" stroke-width="1.2"/><polygon fill="#111" points="469.7,484.0 479.2,491.6 469.7,496.2"/>
<line x1="499.0" y1="544.3" x2="494.8" y2="560.9" stroke="#111" stroke-width="1.2"/><polygon fill="#111" points="492.6,569.6 490.2,557.6 500.4,560.2"/>
<text x="493.8" y="534.0" font-size="17" font-style="italic" text-anchor="middle" fill="#111" stroke="#111" stroke-width="0.25" textLength="73.5" lengthAdjust="spacingAndGlyphs">Clay layers</text>
</svg>
</body>
</html>
